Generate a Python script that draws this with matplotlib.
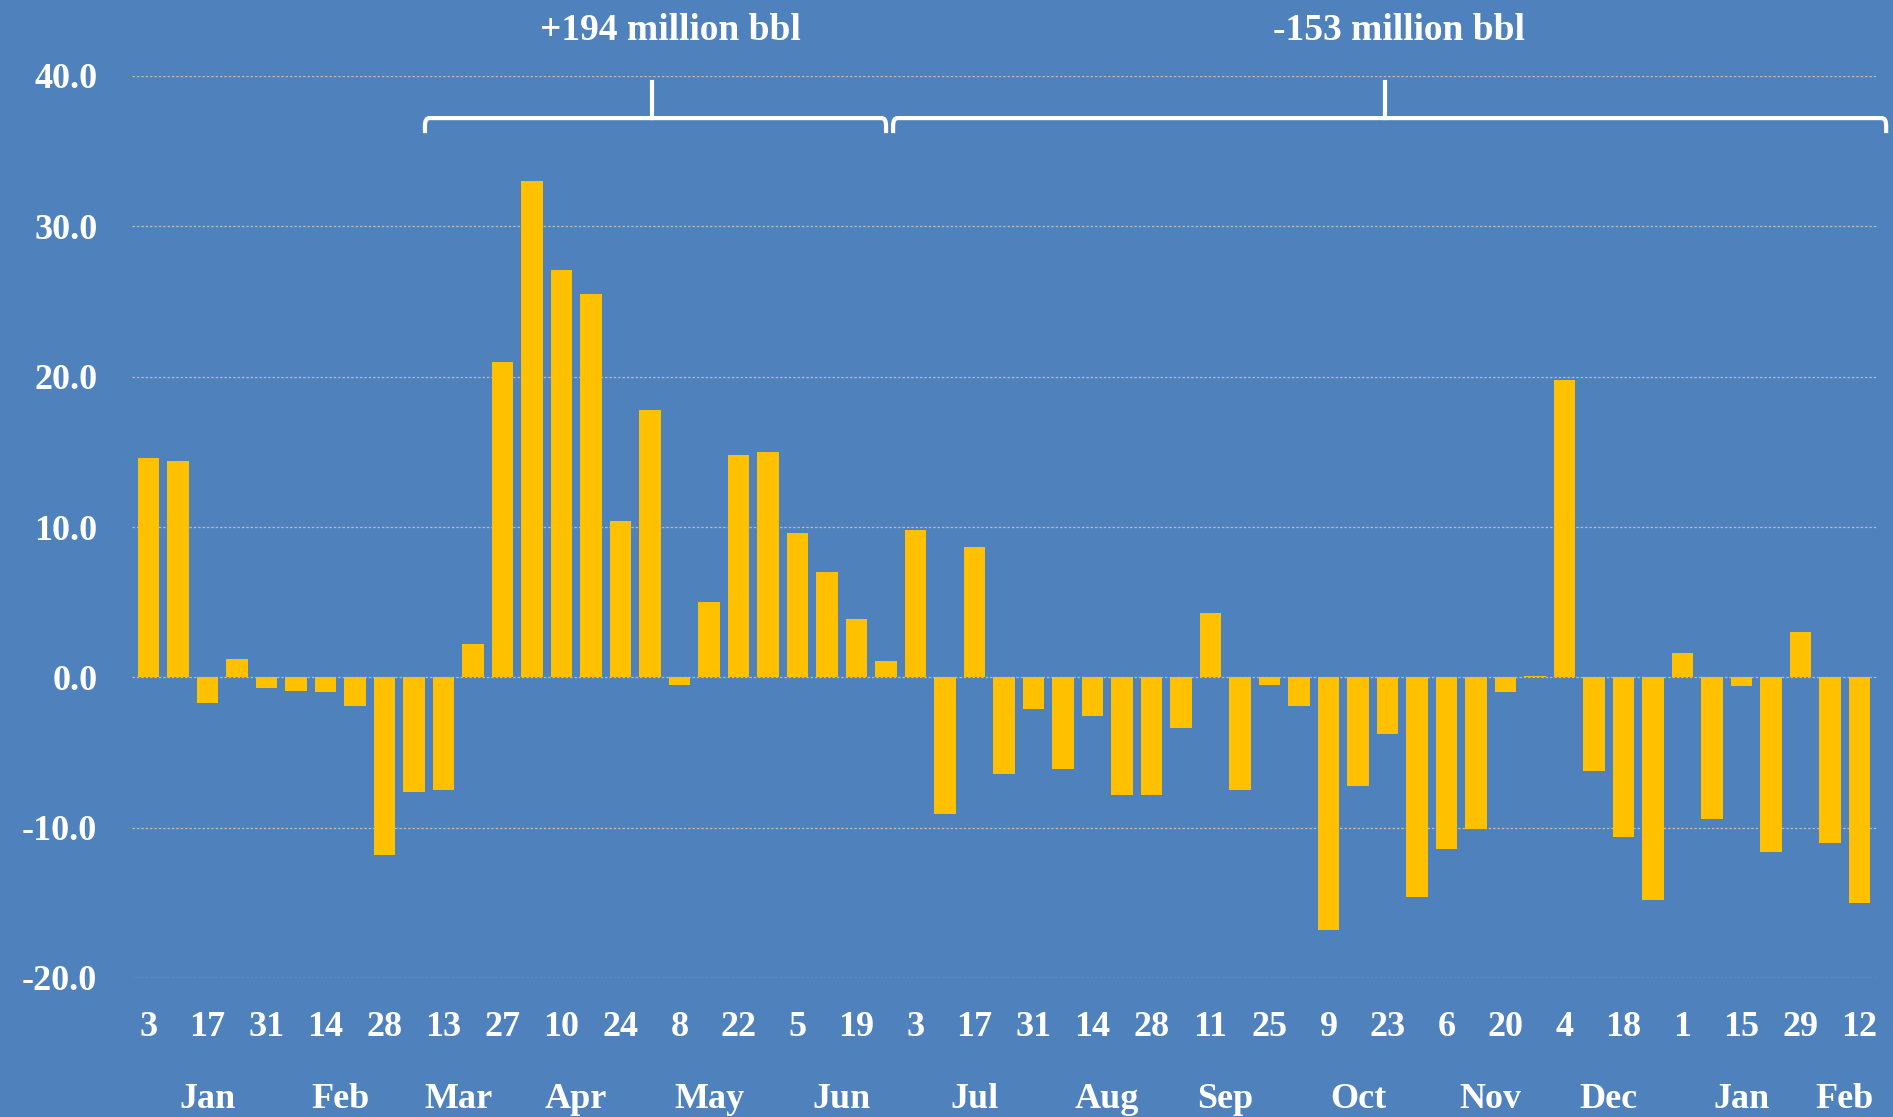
import pandas as pd
import matplotlib
matplotlib.use("Agg")
import matplotlib.pyplot as plt
from matplotlib.path import Path
from matplotlib.patches import PathPatch

# weekly change in inventories, million bbl (weeks ending Friday)
weeks = pd.date_range("2020-01-03", "2021-02-12", freq="7D")
changes = [14.6, 14.4, -1.7, 1.2, -0.7, -0.9, -1.0, -1.9, -11.8, -7.6,
           -7.5, 2.2, 21.0, 33.0, 27.1, 25.5, 10.4, 17.8, -0.5, 5.0,
           14.8, 15.0, 9.6, 7.0, 3.9, 1.1, 9.8, -9.1, 8.7, -6.4,
           -2.1, -6.1, -2.6, -7.8, -7.8, -3.4, 4.3, -7.5, -0.5, -1.9,
           -16.8, -7.2, -3.8, -14.6, -11.4, -10.1, -1.0, 0.1, 19.8, -6.2,
           -10.6, -14.8, 1.6, -9.4, -0.6, -11.6, 3.0, -11.0, -15.0]
brace_labels = ["+194 million bbl", "-153 million bbl"]

bg = "#4F81BD"
bar_col = "#FFC000"
font = "Liberation Serif"

plt.rcParams["axes.unicode_minus"] = False
plt.rcParams["font.family"] = font
plt.rcParams["font.weight"] = "bold"

fig = plt.figure(figsize=(18.93, 11.17), dpi=100, facecolor=bg)
ax = fig.add_axes([132 / 1893, 1 - 978 / 1117, 1745 / 1893, 902 / 1117])
ax.set_facecolor(bg)

x = list(range(len(changes)))
ax.bar(x, changes, width=0.72, color=bar_col, zorder=3)

ax.set_xlim(-0.56, 58.59)
ax.set_ylim(-20, 40)
ax.set_yticks([-20, -10, 0, 10, 20, 30, 40])
ax.set_yticklabels(["%.1f" % v for v in ax.get_yticks()])
ax.grid(axis="y", color="#B4B9C4", linestyle=(0, (2, 1.5)), linewidth=0.9, zorder=0)
for s in ax.spines.values():
    s.set_visible(False)

ax.set_xticks(x[::2])
ax.set_xticklabels([str(d.day) for d in weeks[::2]])
ax.tick_params(axis="x", length=0, pad=24, labelsize=26, labelcolor="white")
ax.tick_params(axis="y", length=0, pad=25, labelsize=26, labelcolor="white")

# month names under the middle of each month's weeks
months = pd.Series(x, index=weeks).groupby([weeks.year, weeks.month])
for (yr, mo), idx in months:
    ax.text(idx.mean(), -0.135, weeks[idx.iloc[0]].strftime("%b"),
            transform=ax.get_xaxis_transform(), ha="center", va="center",
            fontsize=26, color="white", clip_on=False)


def brace(x0, x1, xc, y_line, y_tip, y_top):
    rx, ry = 0.15, 0.5
    verts = [(x0, y_tip), (x0, y_line - ry), (x0, y_line), (x0 + rx, y_line),
             (x1 - rx, y_line), (x1, y_line), (x1, y_line - ry), (x1, y_tip)]
    codes = [Path.MOVETO, Path.LINETO, Path.CURVE3, Path.CURVE3,
             Path.LINETO, Path.CURVE3, Path.CURVE3, Path.LINETO]
    ax.add_patch(PathPatch(Path(verts, codes), fill=False, edgecolor="white",
                           linewidth=3, clip_on=False, zorder=5))
    ax.plot([xc, xc], [y_line, y_top], color="white", linewidth=3,
            clip_on=False, zorder=5)


brace(9.37, 25.0, 17.07, 37.2, 36.2, 39.6)
brace(25.24, 58.9, 41.9, 37.2, 36.2, 39.6)
ax.text(17.7, 43.0, brace_labels[0], ha="center", va="center", fontsize=27,
        color="white", clip_on=False)
ax.text(42.4, 43.0, brace_labels[1], ha="center", va="center", fontsize=27,
        color="white", clip_on=False)

fig.savefig("out.png", dpi=100, facecolor=bg)
